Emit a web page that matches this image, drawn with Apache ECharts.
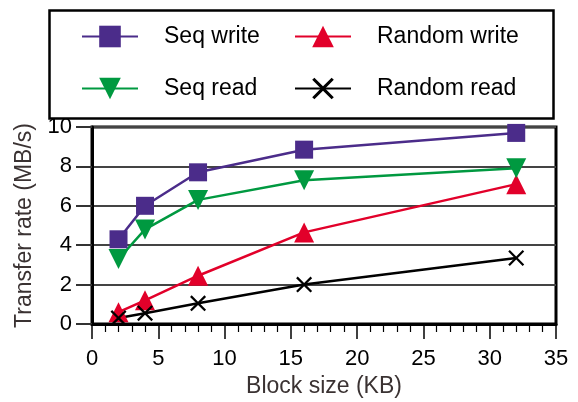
<!DOCTYPE html>
<html>
<head>
<meta charset="utf-8">
<script src="https://cdn.jsdelivr.net/npm/echarts@6/dist/echarts.min.js"></script>
<style>
html,body{margin:0;padding:0;background:#fff;}
#main{width:578px;height:402px;}
</style>
</head>
<body>
<div id="main"></div>
<script>
var blockSizes = [2, 4, 8, 16, 32];
var seqWrite = [4.3, 6.0, 7.7, 8.85, 9.7];
var seqRead = [3.3, 4.8, 6.3, 7.3, 7.9];
var randomWrite = [0.6, 1.2, 2.45, 4.65, 7.1];
var randomRead = [0.3, 0.55, 1.05, 2.0, 3.35];
var xTicks = [0, 5, 10, 15, 20, 25, 30, 35];
var yTicks = [0, 2, 4, 6, 8, 10];

function pairs(ys) { return blockSizes.map(function (x, i) { return [x, ys[i]]; }); }

var FONT = 'Liberation Sans, Arial, sans-serif';
var crossPath = 'path://M2,0 L10,8 L18,0 L20,2 L12,10 L20,18 L18,20 L10,12 L2,20 L0,18 L8,10 L0,2 Z';

var chart = echarts.init(document.getElementById('main'), null, {renderer: 'canvas'});
chart.setOption({
  animation: false,
  backgroundColor: '#fff',
  textStyle: {fontFamily: FONT},
  grid: {left: 92, right: 22, top: 127, bottom: 78, show: true, borderColor: '#000', borderWidth: 3, containLabel: false},
  graphic: [{
    type: 'rect', left: 47, top: 8, z: 10,
    shape: {x: 0, y: 0, width: 504, height: 108},
    style: {fill: 'none', stroke: '#000', lineWidth: 2.5}
  }],
  legend: [{
    orient: 'vertical', left: 81, top: 25, padding: 0, itemWidth: 56, itemHeight: 27, itemGap: 29,
    data: ['Seq write', 'Seq read'],
    textStyle: {fontSize: 23, color: '#000', fontFamily: FONT, padding: [0, 0, 0, 21]}
  }, {
    orient: 'vertical', left: 294, top: 25, padding: 0, itemWidth: 56, itemHeight: 27, itemGap: 29,
    data: ['Random write', 'Random read'],
    textStyle: {fontSize: 23, color: '#000', fontFamily: FONT, padding: [0, 0, 0, 21]}
  }],
  xAxis: {
    type: 'value', min: 0, max: 35, interval: 5,
    name: 'Block size (KB)', nameLocation: 'middle', nameGap: 51,
    nameTextStyle: {fontSize: 23, color: '#3a3232', fontFamily: FONT},
    axisLine: {show: true, onZero: false, lineStyle: {color: '#000', width: 3}},
    axisTick: {show: true, inside: false, length: 15, lineStyle: {color: '#000', width: 1.5}},
    minorTick: {show: true, splitNumber: 5, length: 8, lineStyle: {color: '#000', width: 1.2}},
    axisLabel: {fontSize: 22, color: '#000', margin: 24, fontFamily: FONT,
      formatter: function (v) { return xTicks.indexOf(v) >= 0 ? String(v) : ''; }},
    splitLine: {show: false}
  },
  yAxis: {
    type: 'value', min: 0, max: 10, interval: 2,
    name: 'Transfer rate (MB/s)', nameLocation: 'middle', nameGap: 52,
    nameTextStyle: {fontSize: 23, color: '#3a3232', fontFamily: FONT},
    axisLine: {show: true, onZero: false, lineStyle: {color: '#000', width: 3}},
    axisTick: {show: true, inside: false, length: 16, lineStyle: {color: '#333', width: 2}},
    axisLabel: {fontSize: 22, color: '#000', margin: 20, fontFamily: FONT,
      formatter: function (v) { return yTicks.indexOf(v) >= 0 ? String(v) : ''; }},
    splitLine: {show: true, lineStyle: {color: '#444', width: 2}}
  },
  series: [{
    name: 'Seq write', type: 'line', data: pairs(seqWrite),
    symbol: 'rect', symbolSize: 18,
    lineStyle: {color: '#4b2c8a', width: 2.5}, itemStyle: {color: '#4b2c8a'}
  }, {
    name: 'Random write', type: 'line', data: pairs(randomWrite),
    symbol: 'triangle', symbolSize: 20,
    lineStyle: {color: '#e2002a', width: 2.5}, itemStyle: {color: '#e2002a'}
  }, {
    name: 'Seq read', type: 'line', data: pairs(seqRead),
    symbol: 'triangle', symbolSize: 20, symbolRotate: 180,
    lineStyle: {color: '#009940', width: 2.5}, itemStyle: {color: '#009940'}
  }, {
    name: 'Random read', type: 'line', data: pairs(randomRead),
    symbol: crossPath, symbolSize: 16,
    lineStyle: {color: '#000', width: 2.5}, itemStyle: {color: '#000'}
  }]
});
</script>
</body>
</html>
